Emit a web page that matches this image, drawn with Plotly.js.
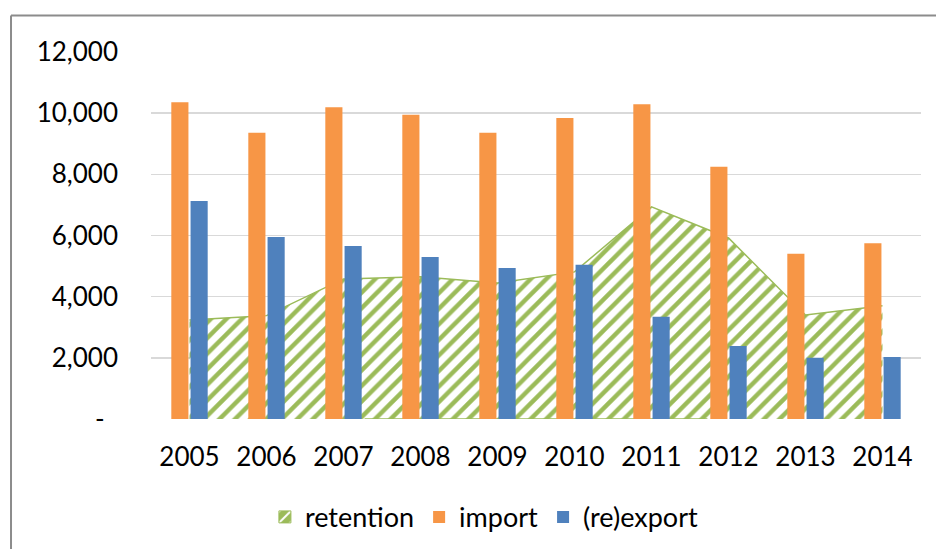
<!DOCTYPE html>
<html>
<head>
<meta charset="utf-8">
<script src="https://cdn.plot.ly/plotly-3.0.1.min.js"></script>
<style>
html,body{margin:0;padding:0;background:#fff;}
#chart{width:936px;height:549px;}
</style>
</head>
<body>
<div id="chart"></div>
<script>
const years = ['2005','2006','2007','2008','2009','2010','2011','2012','2013','2014'];
const retention = [3240, 3380, 4580, 4650, 4450, 4810, 6940, 5920, 3400, 3700];
const importVals = [10360, 9360, 10190, 9950, 9360, 9840, 10290, 8250, 5400, 5750];
const reexport = [7130, 5950, 5660, 5300, 4940, 5040, 3340, 2390, 2000, 2030];
const yTickVals = [0, 2000, 4000, 6000, 8000, 10000, 12000];
const yTickText = ['-\u00A0\u00A0', '2,000', '4,000', '6,000', '8,000', '10,000', '12,000'];

const FONT = 'Lato, "Open Sans", sans-serif';
const FS = 26;
const hatch = {shape: '/', fgcolor: '#9BBB59', bgcolor: '#ffffff', size: 11, solidity: 0.4};

const data = [
  {
    type: 'scatter', mode: 'lines', name: 'retention', showlegend: false,
    x: years, y: retention, fill: 'tozeroy',
    line: {color: '#9BBB59', width: 1.5},
    fillcolor: 'rgba(255,255,255,0)',
    fillpattern: hatch,
    zorder: 0
  },
  {
    // legend-only swatch for retention (square hatched key), drawn on a hidden overlay axis
    type: 'bar', name: 'retention', x: [years[0]], y: [0],
    xaxis: 'x2', yaxis: 'y2',
    marker: {color: '#9BBB59', line: {color: '#9BBB59', width: 1},
             pattern: {shape: '/', fgcolor: '#ffffff', bgcolor: '#9BBB59', size: 14, solidity: 0.25}},
    hoverinfo: 'skip'
  },
  {
    type: 'bar', name: 'import', x: years, y: importVals,
    marker: {color: '#F79646'}, zorder: 1
  },
  {
    type: 'bar', name: '(re)export', x: years, y: reexport,
    marker: {color: '#4F81BD'}, zorder: 1
  }
];

const layout = {
  width: 936, height: 549,
  margin: {l: 151, r: 15, t: 52, b: 130, autoexpand: false},
  paper_bgcolor: '#ffffff', plot_bgcolor: '#ffffff',
  font: {family: FONT, size: FS, color: '#000000'},
  barmode: 'group', bargap: 0.5, bargroupgap: 0.11,
  showlegend: true,
  legend: {orientation: 'h', x: 0.433, xanchor: 'center', y: -0.268, yanchor: 'middle',
           font: {family: FONT, size: 27, color: '#000'}, traceorder: 'normal'},
  xaxis: {
    type: 'category', showgrid: false, showline: true, linecolor: '#D9D9D9', linewidth: 2,
    ticks: '', ticklabelstandoff: 14, tickfont: {family: FONT, size: FS, color: '#000'},
    fixedrange: true
  },
  xaxis2: {type: 'category', overlaying: 'x', visible: false, fixedrange: true},
  yaxis: {
    range: [0, 12000], tickvals: yTickVals, ticktext: yTickText,
    showgrid: true, gridcolor: '#D9D9D9', gridwidth: 1.5, zeroline: false, showline: false,
    ticks: '', ticklabelstandoff: 32, tickfont: {family: FONT, size: FS, color: '#000'},
    fixedrange: true
  },
  yaxis2: {overlaying: 'y', range: [0, 1], visible: false, fixedrange: true},
  shapes: [
    {type: 'line', xref: 'paper', yref: 'paper', x0: -0.1818, x1: 1.03, y0: 1.0995, y1: 1.0995,
     line: {color: '#8C8C8C', width: 2}},
    {type: 'line', xref: 'paper', yref: 'paper', x0: -0.1818, x1: -0.1818, y0: 1.0995, y1: -0.4,
     line: {color: '#8C8C8C', width: 2}}
  ]
};

Plotly.newPlot('chart', data, layout, {displayModeBar: false, staticPlot: true});
</script>
</body>
</html>
